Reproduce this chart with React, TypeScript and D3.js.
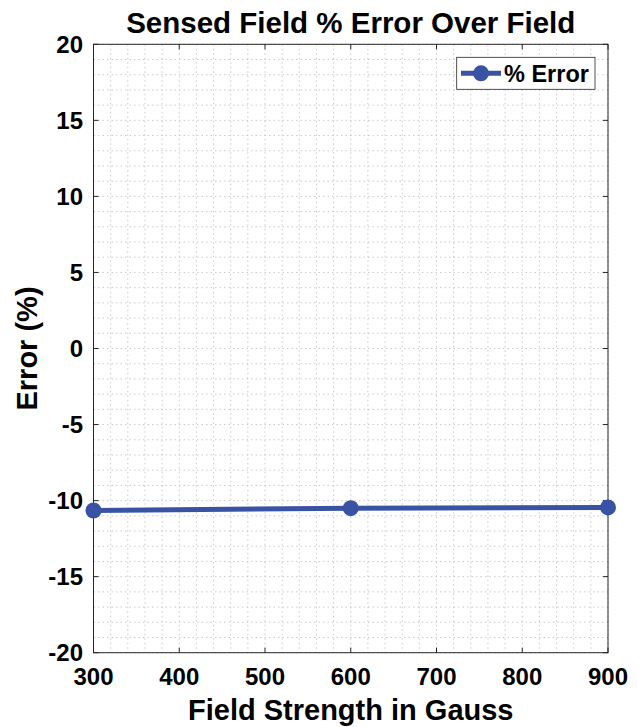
import React from "react";
import * as d3 from "d3";

const fieldX = [300, 600, 900];
const errorY = [-10.65, -10.5, -10.45];
const xTicks = [300, 400, 500, 600, 700, 800, 900];
const yTicks = [-20, -15, -10, -5, 0, 5, 10, 15, 20];

const W = 639, H = 727;
const L = 93.5, R = 608, T = 44.3, B = 652.7;
const COLOR = "#3853A4";
const FONT = "'Liberation Sans', Arial, Helvetica, sans-serif";

export default function App() {
  const x = d3.scaleLinear().domain([300, 900]).range([L, R]);
  const y = d3.scaleLinear().domain([-20, 20]).range([B, T]);
  const xMinor = d3.range(300, 900.1, 20);
  const yMinor = d3.range(-20, 20.1, 1);
  const line = d3.line<number>().x((_, i) => x(fieldX[i])).y((d) => y(d));
  const tickLen = 5;
  return (
    <svg width={W} height={H} style={{ position: "absolute", left: 0, top: 0 }} fontFamily={FONT}>
      <rect x={0} y={0} width={W} height={H} fill="#fff" />
      <rect x={L} y={T} width={R - L} height={B - T} fill="#fff" />
      {xMinor.map((v) => (
        <line key={"xm" + v} x1={x(v)} x2={x(v)} y1={T} y2={B} stroke="#bdbdbd" strokeWidth={0.8} strokeDasharray="1.5,3" />
      ))}
      {yMinor.map((v) => (
        <line key={"ym" + v} x1={L} x2={R} y1={y(v)} y2={y(v)} stroke="#bdbdbd" strokeWidth={0.8} strokeDasharray="1.5,3" />
      ))}
      <rect x={L} y={T} width={R - L} height={B - T} fill="none" stroke="#262626" strokeWidth={1} />
      {xTicks.map((v) => (
        <g key={"xt" + v}>
          <line x1={x(v)} x2={x(v)} y1={B} y2={B - tickLen} stroke="#262626" />
          <line x1={x(v)} x2={x(v)} y1={T} y2={T + tickLen} stroke="#262626" />
          <text x={x(v)} y={685} textAnchor="middle" fontSize={24} fontWeight="bold" fill="#000">{v}</text>
        </g>
      ))}
      {yTicks.map((v) => (
        <g key={"yt" + v}>
          <line x1={L} x2={L + tickLen} y1={y(v)} y2={y(v)} stroke="#262626" />
          <line x1={R} x2={R - tickLen} y1={y(v)} y2={y(v)} stroke="#262626" />
          <text x={83} y={y(v) + 8.5} textAnchor="end" fontSize={24} fontWeight="bold" fill="#000">{v}</text>
        </g>
      ))}
      <path d={line(errorY) || ""} fill="none" stroke={COLOR} strokeWidth={5} />
      {errorY.map((v, i) => (
        <circle key={"p" + i} cx={x(fieldX[i])} cy={y(v)} r={8} fill={COLOR} />
      ))}
      <rect x={456.7} y={57.3} width={138.3} height={32} fill="#fff" stroke="#262626" strokeWidth={0.8} />
      <line x1={461} x2={501} y1={73.3} y2={73.3} stroke={COLOR} strokeWidth={5} />
      <circle cx={481} cy={73.3} r={8} fill={COLOR} />
      <text x={504} y={81.5} fontSize={23.5} fontWeight="bold" fill="#000">% Error</text>
      <text x={(L + R) / 2} y={33} textAnchor="middle" fontSize={29.5} fontWeight="bold" fill="#000">Sensed Field % Error Over Field</text>
      <text x={(L + R) / 2} y={720} textAnchor="middle" fontSize={29} fontWeight="bold" fill="#000">Field Strength in Gauss</text>
      <text transform={`translate(37, ${(T + B) / 2}) rotate(-90)`} textAnchor="middle" fontSize={29} fontWeight="bold" fill="#000">Error (%)</text>
    </svg>
  );
}
